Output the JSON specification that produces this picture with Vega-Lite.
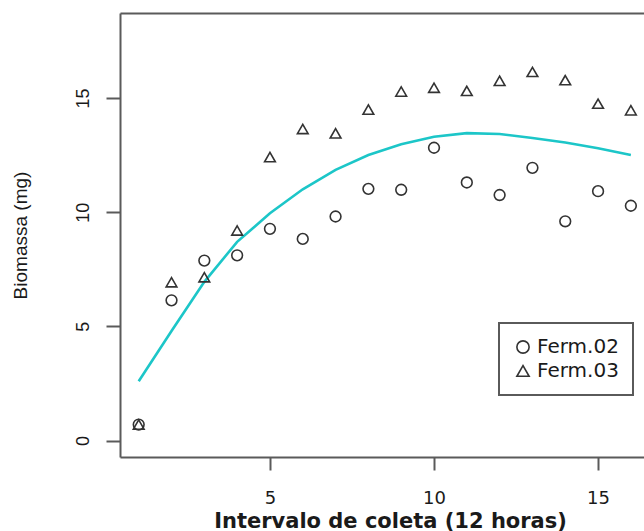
{
  "$schema": "https://vega.github.io/schema/vega-lite/v6.json",
  "width": 524,
  "height": 444,
  "autosize": "none",
  "padding": {"left": 120, "top": 13, "right": 0, "bottom": 74},
  "background": "white",
  "config": {
    "view": {"stroke": null},
    "axis": {
      "grid": false,
      "domainColor": "#5a5a5a",
      "domainWidth": 2,
      "tickColor": "#5a5a5a",
      "tickWidth": 2,
      "labelColor": "#1a1a1a",
      "titleColor": "#1a1a1a"
    },
    "legend": {"strokeWidth": 2}
  },
  "datasets": {
    "pts": [
      {"t": 1, "b": 0.7, "serie": "Ferm.02"},
      {"t": 2, "b": 6.14, "serie": "Ferm.02"},
      {"t": 3, "b": 7.88, "serie": "Ferm.02"},
      {"t": 4, "b": 8.11, "serie": "Ferm.02"},
      {"t": 5, "b": 9.27, "serie": "Ferm.02"},
      {"t": 6, "b": 8.83, "serie": "Ferm.02"},
      {"t": 7, "b": 9.81, "serie": "Ferm.02"},
      {"t": 8, "b": 11.02, "serie": "Ferm.02"},
      {"t": 9, "b": 10.98, "serie": "Ferm.02"},
      {"t": 10, "b": 12.82, "serie": "Ferm.02"},
      {"t": 11, "b": 11.3, "serie": "Ferm.02"},
      {"t": 12, "b": 10.75, "serie": "Ferm.02"},
      {"t": 13, "b": 11.94, "serie": "Ferm.02"},
      {"t": 14, "b": 9.6, "serie": "Ferm.02"},
      {"t": 15, "b": 10.92, "serie": "Ferm.02"},
      {"t": 16, "b": 10.28, "serie": "Ferm.02"},
      {"t": 1, "b": 0.7, "serie": "Ferm.03"},
      {"t": 2, "b": 6.93, "serie": "Ferm.03"},
      {"t": 3, "b": 7.15, "serie": "Ferm.03"},
      {"t": 4, "b": 9.2, "serie": "Ferm.03"},
      {"t": 5, "b": 12.41, "serie": "Ferm.03"},
      {"t": 6, "b": 13.64, "serie": "Ferm.03"},
      {"t": 7, "b": 13.45, "serie": "Ferm.03"},
      {"t": 8, "b": 14.49, "serie": "Ferm.03"},
      {"t": 9, "b": 15.28, "serie": "Ferm.03"},
      {"t": 10, "b": 15.45, "serie": "Ferm.03"},
      {"t": 11, "b": 15.31, "serie": "Ferm.03"},
      {"t": 12, "b": 15.75, "serie": "Ferm.03"},
      {"t": 13, "b": 16.14, "serie": "Ferm.03"},
      {"t": 14, "b": 15.78, "serie": "Ferm.03"},
      {"t": 15, "b": 14.75, "serie": "Ferm.03"},
      {"t": 16, "b": 14.46, "serie": "Ferm.03"}
    ],
    "fit": [
      {"t": 1, "b": 2.6},
      {"t": 2, "b": 4.8},
      {"t": 3, "b": 6.95},
      {"t": 4, "b": 8.7},
      {"t": 5, "b": 9.95},
      {"t": 6, "b": 11.0},
      {"t": 7, "b": 11.85},
      {"t": 8, "b": 12.5},
      {"t": 9, "b": 12.97},
      {"t": 10, "b": 13.3},
      {"t": 11, "b": 13.46},
      {"t": 12, "b": 13.42},
      {"t": 13, "b": 13.25},
      {"t": 14, "b": 13.05},
      {"t": 15, "b": 12.8},
      {"t": 16, "b": 12.5}
    ]
  },
  "layer": [
    {
      "data": {"name": "fit"},
      "mark": {"type": "line", "color": "#1cc6c8", "strokeWidth": 2.6},
      "encoding": {
        "x": {
          "field": "t", "type": "quantitative",
          "scale": {"domain": [0.43, 16.4], "nice": false, "zero": false},
          "axis": {
            "orient": "bottom",
            "values": [5, 10, 15],
            "tickSize": 13,
            "labelFont": "DejaVu Sans",
            "labelFontSize": 18,
            "labelBaseline": "alphabetic",
            "labelPadding": 33,
            "title": "Intervalo de coleta (12 horas)",
            "titleFont": "DejaVu Sans",
            "titleFontSize": 21,
            "titleFontWeight": "bold",
            "titleBaseline": "alphabetic",
            "titleAlign": "center",
            "titleX": 270,
            "titleY": 70
          }
        },
        "y": {
          "field": "b", "type": "quantitative",
          "scale": {"domain": [-0.72, 18.72], "nice": false, "zero": false},
          "axis": {
            "orient": "left",
            "values": [0, 5, 10, 15],
            "tickSize": 14,
            "labelFont": "Liberation Sans",
            "labelFontSize": 18,
            "labelAngle": 270,
            "labelAlign": "center",
            "labelBaseline": "alphabetic",
            "labelPadding": 18,
            "title": "Biomassa (mg)",
            "titleFont": "Liberation Sans",
            "titleFontSize": 19,
            "titleFontWeight": "normal",
            "titleAngle": 270,
            "titleAlign": "center",
            "titleBaseline": "middle",
            "titleX": -100,
            "titleY": 222
          }
        }
      }
    },
    {
      "data": {"name": "pts"},
      "mark": {"type": "point", "filled": false, "color": "#333333", "strokeWidth": 1.6, "size": 115, "opacity": 1},
      "encoding": {
        "x": {
          "field": "t", "type": "quantitative",
          "axis": {"orient": "top", "ticks": false, "labels": false, "title": null}
        },
        "y": {"field": "b", "type": "quantitative", "axis": null},
        "shape": {
          "field": "serie", "type": "nominal",
          "scale": {"domain": ["Ferm.02", "Ferm.03"], "range": ["circle", "triangle-up"]},
          "legend": {
            "orient": "none",
            "legendX": 379,
            "legendY": 310,
            "title": null,
            "strokeColor": "#5a5a5a",
            "fillColor": "white",
            "padding": 14,
            "labelFont": "DejaVu Sans",
            "labelFontSize": 20,
            "labelColor": "#1a1a1a",
            "labelOffset": 4,
            "rowPadding": 4,
            "symbolSize": 150,
            "symbolStrokeWidth": 1.6,
            "symbolStrokeColor": "#333333"
          }
        }
      }
    }
  ],
  "resolve": {"axis": {"x": "independent", "y": "independent"}}
}
